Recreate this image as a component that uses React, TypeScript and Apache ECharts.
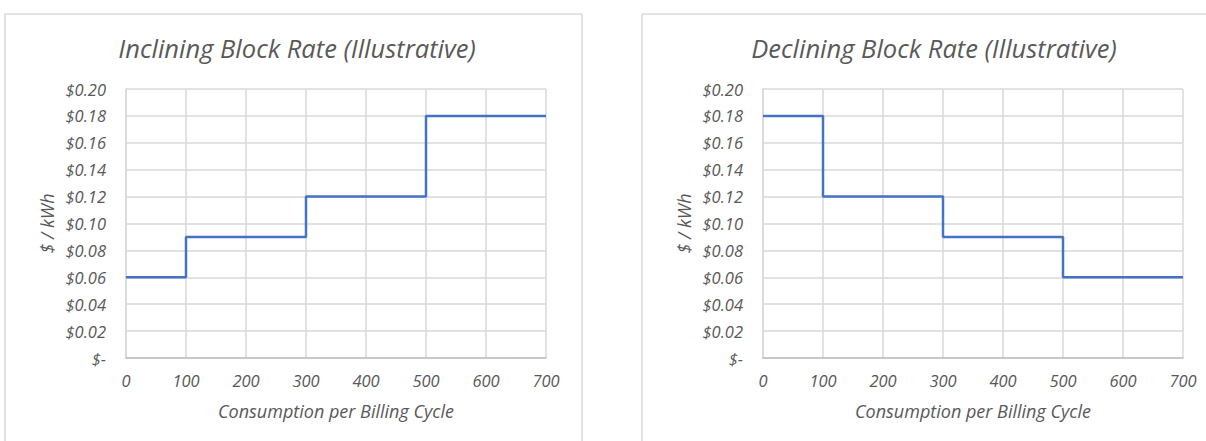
import React, { useEffect, useRef } from "react";
import * as echarts from "echarts";

const blockStarts = [0, 100, 300, 500];
const lastUsage = 700;
const incliningRates = [0.06, 0.09, 0.12, 0.18];
const decliningRates = [0.18, 0.12, 0.09, 0.06];
const titles = ["Inclining Block Rate (Illustrative)", "Declining Block Rate (Illustrative)"];
const xAxisName = "Consumption per Billing Cycle";
const yAxisName = "$ / kWh";

const FONT = "'Open Sans', 'Noto Sans', sans-serif";
const TEXT = "#595959";

function stepData(rates: number[]) {
  const d: number[][] = blockStarts.map((x, i) => [x, rates[i]]);
  d.push([lastUsage, rates[rates.length - 1]]);
  return d;
}

export default function App() {
  const ref = useRef<HTMLDivElement>(null);
  useEffect(() => {
    document.body.style.margin = "0";
    const chart = echarts.init(ref.current!, undefined, { renderer: "svg" });
    const grids = [
      { left: 126, width: 420, top: 89, height: 269 },
      { left: 763, width: 420, top: 89, height: 269 },
    ];
    const xAxes = grids.map((_, i) => ({
      type: "value",
      gridIndex: i,
      min: 0,
      max: 700,
      interval: 100,
      name: xAxisName,
      nameLocation: "middle",
      nameGap: 44,
      nameTextStyle: { fontFamily: FONT, fontStyle: "italic", fontSize: 18, color: TEXT },
      axisLine: { show: true, lineStyle: { color: "#bfbfbf", width: 1.5 } },
      axisTick: { show: false },
      axisLabel: { margin: 14, fontFamily: FONT, fontStyle: "italic", fontSize: 16.5, color: TEXT },
      splitLine: { show: true, lineStyle: { color: "#d9d9d9", width: 1.5 } },
    }));
    const yAxes = grids.map((_, i) => ({
      type: "value",
      gridIndex: i,
      min: 0,
      max: 0.2,
      interval: 0.02,
      name: yAxisName,
      nameLocation: "middle",
      nameGap: 70,
      nameTextStyle: { fontFamily: FONT, fontStyle: "italic", fontSize: 18, color: TEXT },
      axisLine: { show: true, lineStyle: { color: "#d9d9d9", width: 1.5 } },
      axisTick: { show: false },
      axisLabel: {
        margin: 20,
        fontFamily: FONT,
        fontStyle: "italic",
        fontSize: 16.5,
        color: TEXT,
        formatter: (v: number) => (Math.abs(v) < 1e-9 ? "$-" : "$" + v.toFixed(2)),
      },
      splitLine: { show: true, lineStyle: { color: "#d9d9d9", width: 1.5 } },
    }));
    const titleStyle = { fontFamily: FONT, fontStyle: "italic", fontWeight: "normal", fontSize: 25.5, color: TEXT };
    chart.setOption({
      animation: false,
      backgroundColor: "#ffffff",
      title: [
        { text: titles[0], left: 292, top: 30, textAlign: "center", textStyle: titleStyle },
        { text: titles[1], left: 929, top: 30, textAlign: "center", textStyle: titleStyle },
      ],
      graphic: [
        { type: "rect", shape: { x: 5, y: 14, width: 577, height: 460 }, style: { fill: "none", stroke: "#d9d9d9", lineWidth: 1.5 }, z: -1 },
        { type: "rect", shape: { x: 642, y: 14, width: 600, height: 460 }, style: { fill: "none", stroke: "#d9d9d9", lineWidth: 1.5 }, z: -1 },
      ],
      grid: grids,
      xAxis: xAxes,
      yAxis: yAxes,
      series: [
        {
          type: "line",
          xAxisIndex: 0,
          yAxisIndex: 0,
          step: "end",
          symbol: "none",
          data: stepData(incliningRates),
          lineStyle: { color: "#4472C4", width: 2.5 },
        },
        {
          type: "line",
          xAxisIndex: 1,
          yAxisIndex: 1,
          step: "end",
          symbol: "none",
          data: stepData(decliningRates),
          lineStyle: { color: "#4472C4", width: 2.5 },
        },
      ],
    });
    return () => chart.dispose();
  }, []);
  return <div ref={ref} style={{ width: 1206, height: 441 }} />;
}
